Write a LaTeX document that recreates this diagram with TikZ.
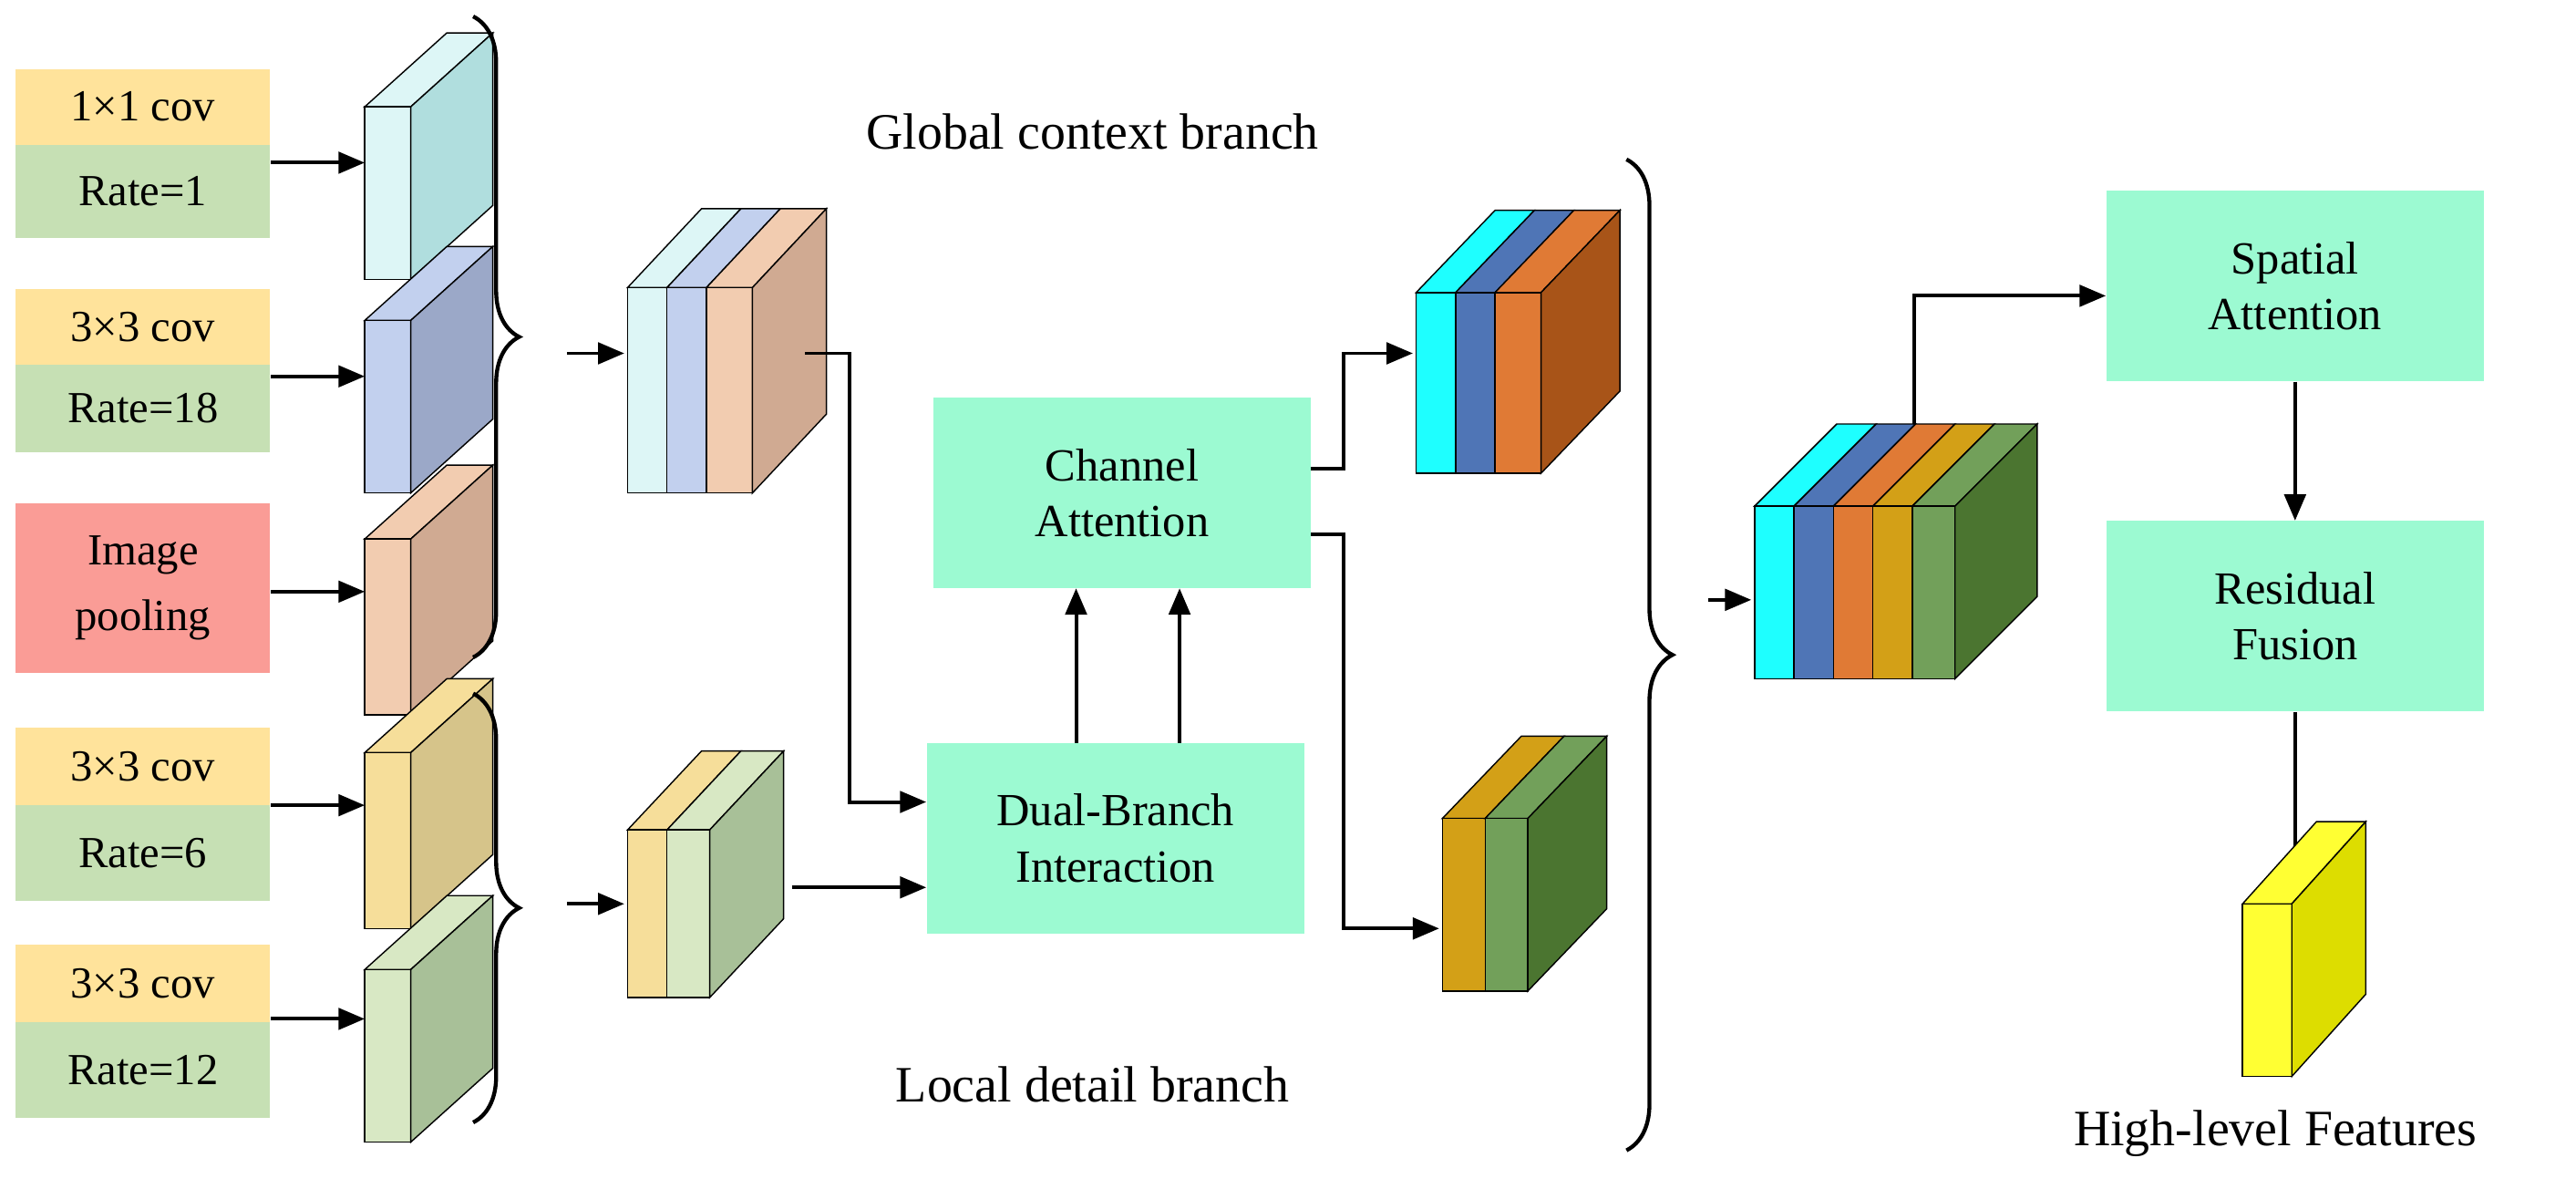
\documentclass[tikz,border=0pt]{standalone}
\usepackage{fontspec}
\setmainfont{Liberation Serif}
\usetikzlibrary{decorations.pathreplacing,arrows.meta}
\definecolor{ylab}{HTML}{FFE39B}
\definecolor{glab}{HTML}{C6E0B4}
\definecolor{rlab}{HTML}{FA9C96}
\definecolor{mint}{HTML}{9CFAD2}
\tikzset{
 lab/.style={draw=none,minimum width=155pt,inner sep=0pt,font=\fontsize{27}{30}\selectfont},
 mbox/.style={fill=mint,draw=none,minimum width=230pt,minimum height=116pt,align=center,font=\fontsize{28}{34}\selectfont,inner sep=0pt},
 arr/.style={-{Triangle[length=16pt,width=13pt]},line width=2.2pt},
 br/.style={decorate,decoration={brace,amplitude=28pt},line width=2.4pt},
 big/.style={font=\fontsize{31}{36}\selectfont}
}
\newcommand\slabf[7]{% x y w h dx dy hex
 \definecolor{tmpc}{HTML}{#7}%
 \filldraw[fill=tmpc,draw=black,line width=0.8pt] (#1,#2)--++(#5,-#6)--++(#3,0)--(#1+#3,#2)--cycle;
 \filldraw[fill=tmpc,draw=black,line width=0.8pt] (#1,#2) rectangle ++(#3,#4);}
\newcommand\slabs[7]{%
 \definecolor{tmpc}{HTML}{#7}%
 \filldraw[fill=tmpc,draw=black,line width=0.8pt] (#1+#3,#2)--++(#5,-#6)--++(0,#4)--(#1+#3,#2+#4)--cycle;}
\begin{document}
\begin{tikzpicture}[x=1pt,y=-1pt]
\useasboundingbox (0,0) rectangle (1568,723);
% left labels
\node[lab,fill=ylab,minimum height=46pt] (l1) at (87,65) {1×1 cov};
\node[lab,fill=glab,minimum height=57pt] (r1) at (87,116.5) {Rate=1};
\node[lab,fill=ylab,minimum height=46pt] (l2) at (87,199) {3×3 cov};
\node[lab,fill=glab,minimum height=53pt] (r2) at (87,248.5) {Rate=18};
\node[lab,fill=rlab,minimum height=103pt,align=center,font=\fontsize{27}{40}\selectfont] (ip) at (87,358) {Image\\pooling};
\node[lab,fill=ylab,minimum height=47pt] (l3) at (87,466.5) {3×3 cov};
\node[lab,fill=glab,minimum height=58pt] (r3) at (87,519) {Rate=6};
\node[lab,fill=ylab,minimum height=47pt] (l4) at (87,598.5) {3×3 cov};
\node[lab,fill=glab,minimum height=58pt] (r4) at (87,651) {Rate=12};
% single slabs
\slabf{222}{65}{28}{105}{50}{45}{DDF6F6}\slabs{222}{65}{28}{105}{50}{45}{B0DEDE}
\slabf{222}{195}{28}{105}{50}{45}{C2D0EE}\slabs{222}{195}{28}{105}{50}{45}{9BA8C8}
\slabf{222}{328}{28}{107}{50}{45}{F2CCB0}\slabs{222}{328}{28}{107}{50}{45}{D0AA92}
\slabf{222}{458}{28}{107}{50}{45}{F6DE9A}\slabs{222}{458}{28}{107}{50}{45}{D6C48A}
\slabf{222}{590}{28}{105}{50}{45}{D8E8C4}\slabs{222}{590}{28}{105}{50}{45}{A8C098}
\foreach \y in {99,229,360,490,620} \draw[arr] (165,\y) -- (222,\y);
% braces
\draw[br] (288,10) -- (288,400);
\draw[br] (288,422) -- (288,683);
\draw[arr] (345,215) -- (380,215);
\draw[arr] (345,550) -- (380,550);
% global stack
\slabf{382}{175}{24}{125}{45}{48}{DDF6F6}
\slabf{406}{175}{24}{125}{45}{48}{C2D0EE}
\slabf{430}{175}{28}{125}{45}{48}{F2CCB0}\slabs{430}{175}{28}{125}{45}{48}{D0AA92}
% local stack
\slabf{382}{505}{24}{102}{45}{48}{F6DE9A}
\slabf{406}{505}{26}{102}{45}{48}{D8E8C4}\slabs{406}{505}{26}{102}{45}{48}{A8C098}
\node[big] (gt) at (665,80) {Global context branch};
\node[big] (lt) at (665,660) {Local detail branch};
\node[mbox] (dbi) at (679,510) {Dual-Branch\\Interaction};
\node[mbox] (ca) at (683,300) {Channel\\Attention};
\draw[arr] (490,215) -- (517,215) -- (517,488) -- (dbi.west|-0,488);
\draw[arr] (482,540) -- (dbi.west|-0,540);
\draw[arr] (655,452) -- (655,358);
\draw[arr] (718,452) -- (718,358);
\draw[arr] (798,285) -- (818,285) -- (818,215) -- (860,215);
\draw[arr] (798,325) -- (818,325) -- (818,565) -- (876,565);
% top mid block
\slabf{862}{178}{24}{110}{48}{50}{1EFFFF}
\slabf{886}{178}{24}{110}{48}{50}{4F75B6}
\slabf{910}{178}{28}{110}{48}{50}{E07A35}\slabs{910}{178}{28}{110}{48}{50}{A85418}
% bottom mid block
\slabf{878}{498}{26}{105}{48}{50}{D3A017}
\slabf{904}{498}{26}{105}{48}{50}{72A05A}\slabs{904}{498}{26}{105}{48}{50}{4B7530}
\draw[br] (990,97) -- (990,700);
\draw[arr] (1040,365) -- (1066,365);
% big block
\slabf{1068}{308}{24}{105}{50}{50}{1EFFFF}
\slabf{1092}{308}{24}{105}{50}{50}{4F75B6}
\slabf{1116}{308}{24}{105}{50}{50}{E07A35}
\slabf{1140}{308}{24}{105}{50}{50}{D3A017}
\slabf{1164}{308}{26}{105}{50}{50}{72A05A}\slabs{1164}{308}{26}{105}{50}{50}{4B7530}
\node[mbox] (sa) at (1397,174) {Spatial\\Attention};
\node[mbox] (rf) at (1397,375) {Residual\\Fusion};
\draw[arr] (1165,258) -- (1165,180) -- (sa.west|-0,180);
\draw[arr] (sa.south) -- (rf.north);
\draw[arr] (rf.south) -- (1397,545);
\slabf{1365}{550}{30}{105}{45}{50}{FFFF33}\slabs{1365}{550}{30}{105}{45}{50}{DDDD00}
\node[big] (hl) at (1385,690) {High-level Features};
\end{tikzpicture}
\end{document}
